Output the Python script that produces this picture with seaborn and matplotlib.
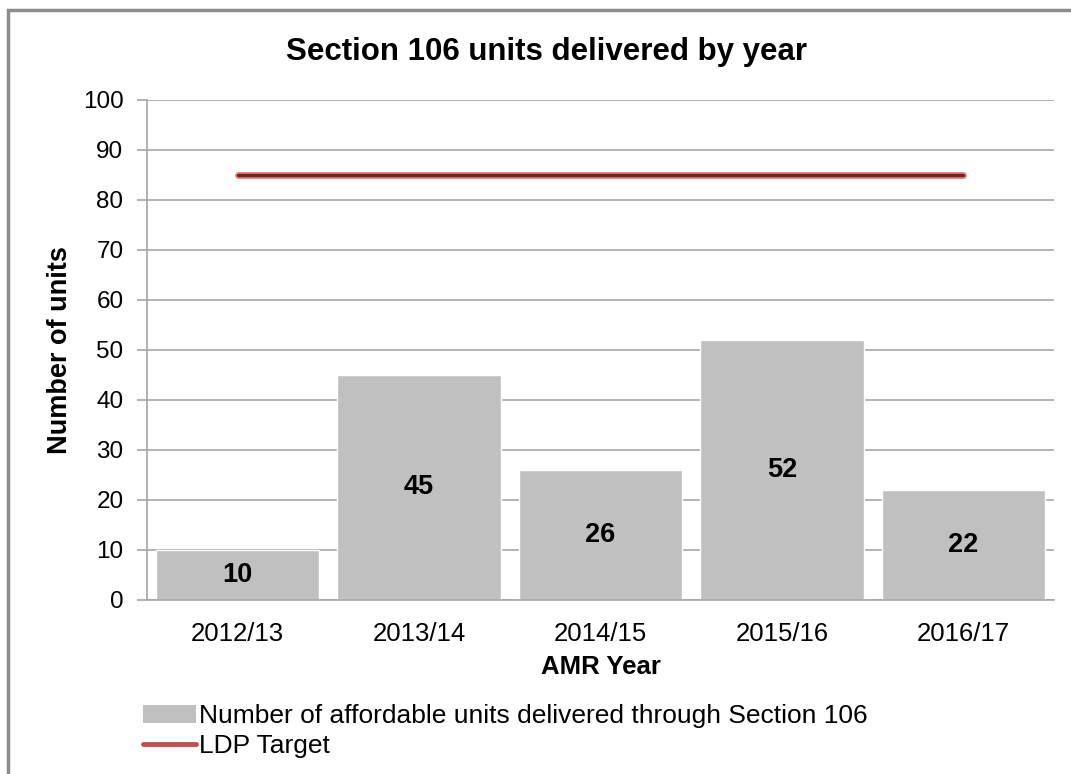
import matplotlib
matplotlib.use('Agg')
import matplotlib.pyplot as plt
import matplotlib.patheffects as pe
from matplotlib.patches import Patch, Rectangle
from matplotlib.lines import Line2D
import seaborn as sns

# Chart data
years = ['2012/13', '2013/14', '2014/15', '2015/16', '2016/17']
units = [10, 45, 26, 52, 22]
ldp_target = [85, 85, 85, 85, 85]

sns.set_style('white')
plt.rcParams['font.family'] = ['Liberation Sans', 'DejaVu Sans']
plt.rcParams['text.color'] = 'black'
plt.rcParams['axes.labelcolor'] = 'black'
plt.rcParams['xtick.labelcolor'] = 'black'
plt.rcParams['ytick.labelcolor'] = 'black'

fig = plt.figure(figsize=(10.71, 7.74), dpi=100)
ax = fig.add_axes([147 / 1071, 1 - 600 / 774, 907 / 1071, 500 / 774])

grey = '#a6a6a6'
sns.barplot(x=years, y=units, color='#c0c0c0', width=0.9, saturation=1, ax=ax, zorder=2)
sns.lineplot(x=years, y=ldp_target, sort=False, color='#7a1f1f', lw=2.5, ax=ax, zorder=3,
             path_effects=[pe.Stroke(linewidth=5, foreground='#e08a88'), pe.Normal()])

# value labels in the middle of each bar
for i, v in enumerate(units):
    ax.text(i, v / 2, str(v), ha='center', va='center', fontsize=19.5, fontweight='bold', zorder=4)

ax.set_xlim(-0.5, 4.5)
ax.set_ylim(0, 100)
ax.set_yticks(range(0, 101, 10))
ax.yaxis.grid(True, color=grey, lw=1.2, zorder=0)
ax.set_axisbelow(True)
for s in ['top', 'right']:
    ax.spines[s].set_visible(False)
for s in ['left', 'bottom']:
    ax.spines[s].set_color(grey)
    ax.spines[s].set_linewidth(1.2)

# category boundary ticks on x, outward ticks on y
ax.set_xticks([i - 0.5 for i in range(6)], minor=True)
ax.tick_params(axis='x', which='major', length=0, labelsize=18.5, pad=16)
ax.tick_params(axis='x', which='minor', length=7, color=grey, width=1.2, direction='out')
ax.tick_params(axis='y', length=7, color=grey, width=1.2, direction='out', labelsize=17.5, pad=10, left=True)

ax.set_xlabel('AMR Year', fontsize=18.5, fontweight='bold', labelpad=6)
ax.set_ylabel('Number of units', fontsize=19.5, fontweight='bold', labelpad=7)
fig.text(546 / 1071, 1 - 52 / 774, 'Section 106 units delivered by year', ha='center', va='center',
         fontsize=22.5, fontweight='bold')

handles = [Patch(facecolor='#c0c0c0', edgecolor='none'),
           Line2D([0], [0], color='#c0504d', lw=3.5)]
labels = ['Number of affordable units delivered through Section 106', 'LDP Target']
fig.legend(handles, labels, loc='upper left', bbox_to_anchor=(143 / 1071, 1 - 704 / 774),
           frameon=False, fontsize=19, handlelength=2.0, handletextpad=0.12,
           labelspacing=0.22, borderaxespad=0, borderpad=0)

# outer chart border
fig.add_artist(Rectangle((8 / 1071, -0.1), 1.2, 1 - 10 / 774 + 0.1, transform=fig.transFigure,
                         fill=False, edgecolor='#8c8c8c', lw=2.5))

fig.savefig('out.png', dpi=100, facecolor='white')
